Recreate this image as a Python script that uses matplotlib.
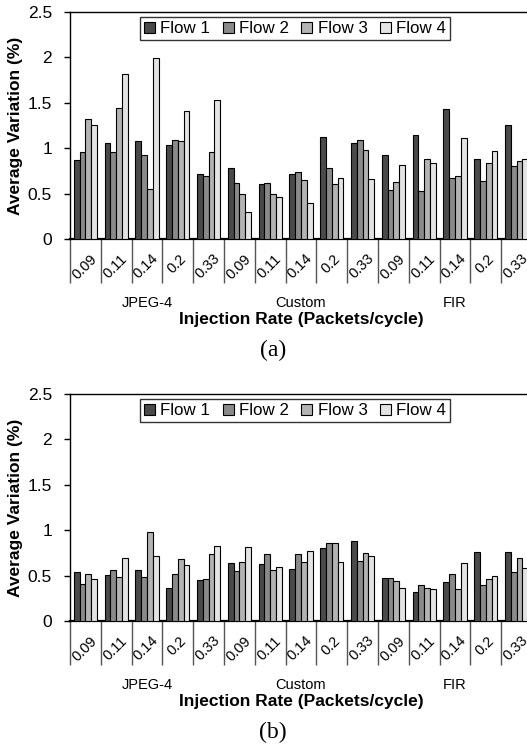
import numpy as np
import matplotlib.pyplot as plt

plt.rcParams['font.family'] = ['Liberation Sans', 'DejaVu Sans']

apps = ['JPEG-4', 'Custom', 'FIR']
rates = ['0.09', '0.11', '0.14', '0.2', '0.33']
flows = ['Flow 1', 'Flow 2', 'Flow 3', 'Flow 4']
colors = ['#4a4a4a', '#8a8a8a', '#b3b3b3', '#e3e3e3']

# (a) one row per flow, 15 groups: JPEG-4 x5, Custom x5, FIR x5
var_a = [
    [0.87, 1.06, 1.08, 1.03, 0.72, 0.78, 0.61, 0.72, 1.12, 1.06, 0.93, 1.15, 1.43, 0.88, 1.26],
    [0.96, 0.96, 0.93, 1.09, 0.69, 0.62, 0.62, 0.74, 0.78, 1.09, 0.54, 0.53, 0.67, 0.64, 0.80],
    [1.32, 1.44, 0.55, 1.08, 0.96, 0.50, 0.50, 0.65, 0.61, 0.98, 0.63, 0.88, 0.69, 0.84, 0.86],
    [1.26, 1.82, 1.99, 1.41, 1.53, 0.30, 0.46, 0.40, 0.67, 0.66, 0.81, 0.84, 1.11, 0.97, 0.88],
]
# (b)
var_b = [
    [0.54, 0.51, 0.56, 0.36, 0.45, 0.64, 0.63, 0.57, 0.80, 0.88, 0.47, 0.32, 0.43, 0.76, 0.76],
    [0.41, 0.56, 0.49, 0.52, 0.46, 0.55, 0.74, 0.74, 0.86, 0.66, 0.47, 0.40, 0.52, 0.40, 0.54],
    [0.52, 0.48, 0.98, 0.68, 0.74, 0.65, 0.56, 0.65, 0.86, 0.75, 0.44, 0.36, 0.35, 0.46, 0.69],
    [0.46, 0.69, 0.72, 0.62, 0.83, 0.82, 0.59, 0.77, 0.65, 0.72, 0.36, 0.35, 0.64, 0.50, 0.58],
]

W, H = 527, 755
fig = plt.figure(figsize=(W / 100, H / 100), dpi=100)


def draw_panel(ax, data, tag):
    n = len(apps) * len(rates)
    x = np.arange(n)
    bw = 0.187
    for i, (vals, c, lab) in enumerate(zip(data, colors, flows)):
        ax.bar(x + (i - 1.5) * bw, vals, bw, color=c, edgecolor='black',
               linewidth=0.8, label=lab, zorder=3)
    ax.set_xlim(-0.5, n - 0.5)
    ax.set_ylim(0, 2.5)
    ax.set_yticks([0, 0.5, 1, 1.5, 2, 2.5])
    ax.set_yticklabels(['0', '0.5', '1', '1.5', '2', '2.5'])
    ax.tick_params(axis='y', direction='out', length=4, width=1, pad=9, labelsize=12.5)
    ax.spines['bottom'].set_linewidth(1.6)
    for s in ['left', 'top', 'right']:
        ax.spines[s].set_linewidth(1.0)

    # group boundary ticks (short) and application boundary ticks (long)
    ax.set_xticks(np.arange(n + 1) - 0.5)
    ax.set_xticklabels([])
    ax.set_xticks(np.arange(0, n + 1, len(rates)) - 0.5, minor=True)
    ax.tick_params(axis='x', which='major', direction='out', length=31.5,
                   width=1.0, color='#555555')
    ax.tick_params(axis='x', which='minor', direction='out', length=51,
                   width=1.0, color='#555555')

    tr = ax.get_xaxis_transform()
    for k in range(n):
        ax.text(k - 0.04, -0.055, rates[k % len(rates)], transform=tr,
                rotation=45, ha='center', va='top', fontsize=10.5)
    for j, app in enumerate(apps):
        ax.text(j * len(rates) + (len(rates) - 1) / 2, -0.28, app,
                transform=tr, ha='center', va='center', fontsize=10.5)
    ax.text(0.5, -0.355, 'Injection Rate (Packets/cycle)', transform=ax.transAxes,
            ha='center', va='center', fontsize=12.5, fontweight='bold')
    ax.set_ylabel('Average Variation (%)', fontsize=12.5, fontweight='bold',
                  labelpad=3)

    leg = ax.legend(loc='upper center', bbox_to_anchor=(0.487, 0.978), ncol=4,
                    frameon=True, fancybox=False, fontsize=12.2,
                    handlelength=0.65, handleheight=0.65, handletextpad=0.3,
                    columnspacing=0.75, borderpad=0.25, borderaxespad=0)
    leg.get_frame().set_edgecolor('black')
    leg.get_frame().set_linewidth(1.0)

    bb = ax.get_position()
    fig.text(0.518, bb.y0 - 0.147, tag, ha='center', va='center',
             fontsize=17, family='Liberation Serif')


left = 70 / W
width = 462 / W
height = 227 / H
ax_a = fig.add_axes([left, 1 - 239 / H, width, height])
ax_b = fig.add_axes([left, 1 - 621 / H, width, height])

draw_panel(ax_a, var_a, '(a)')
draw_panel(ax_b, var_b, '(b)')

fig.savefig('out.png', dpi=100)
